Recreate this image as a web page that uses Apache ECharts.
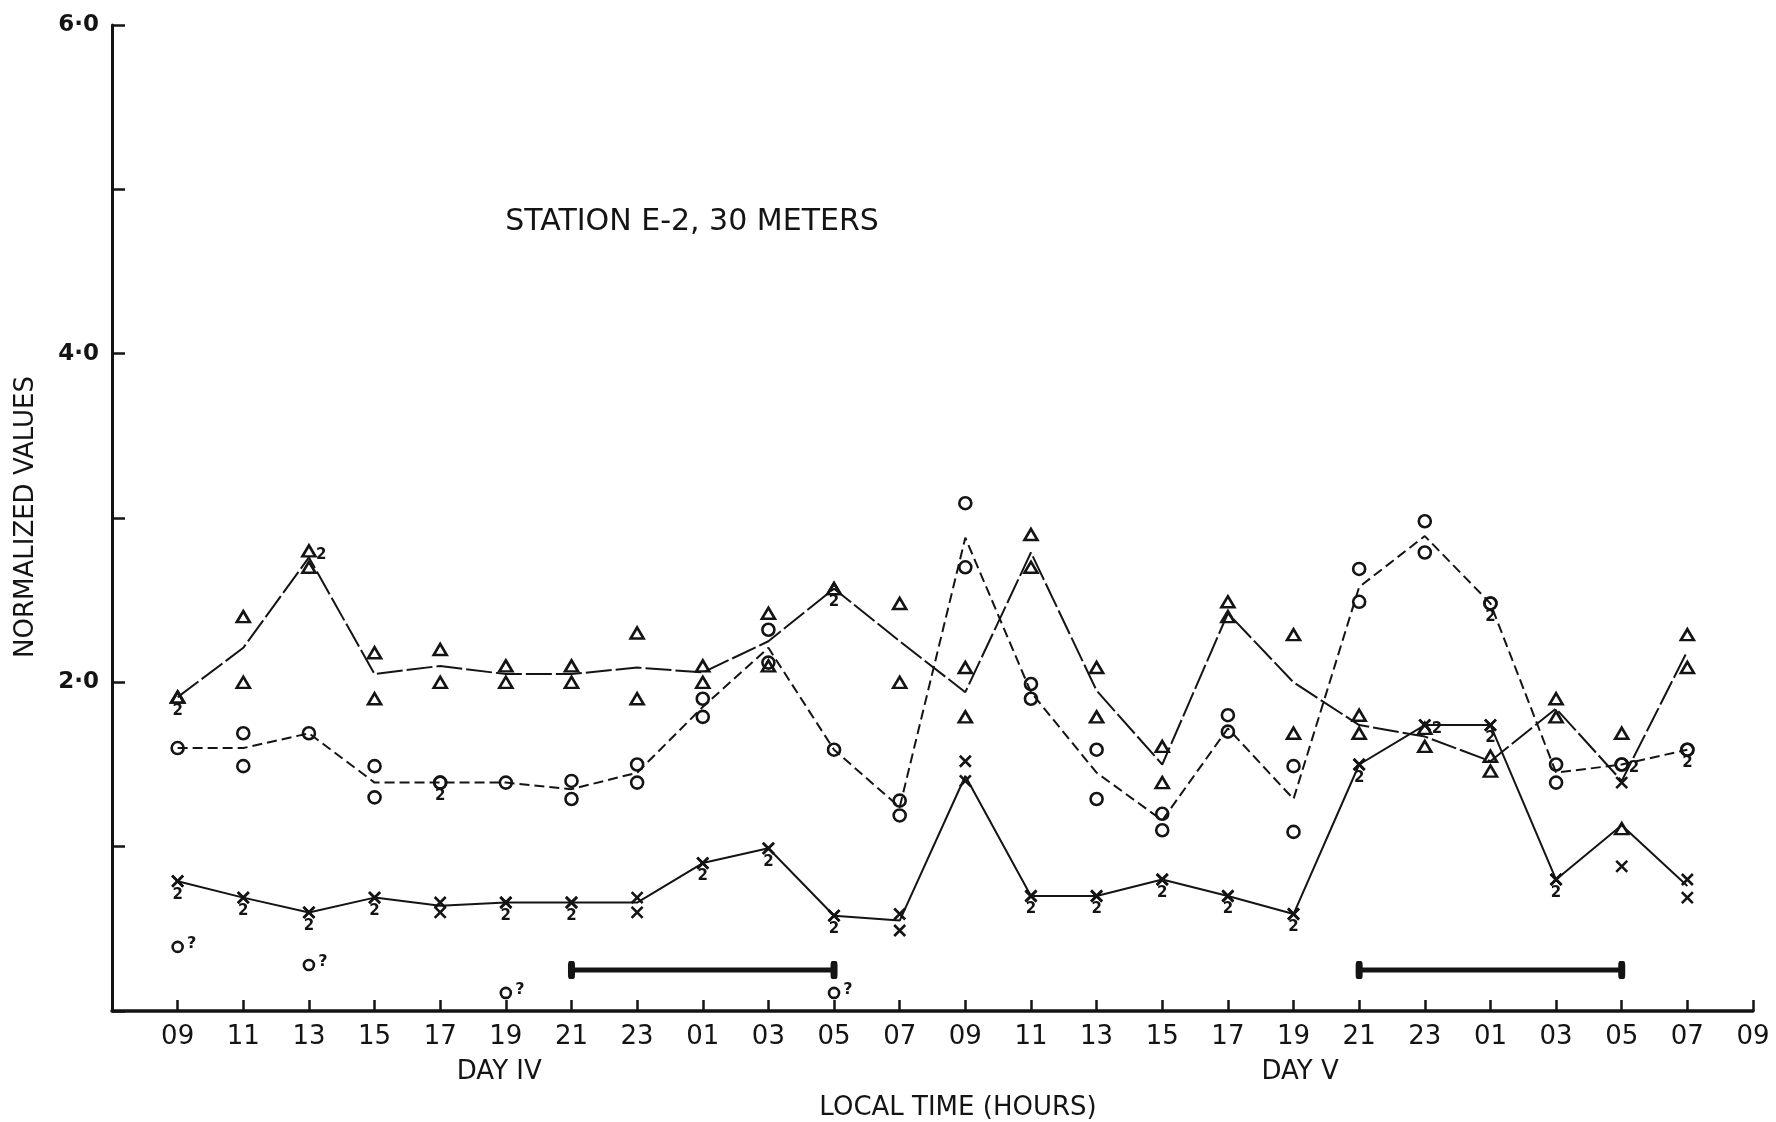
<!DOCTYPE html>
<html><head><meta charset="utf-8">
<script src="https://cdn.jsdelivr.net/npm/echarts@6/dist/echarts.min.js"></script>
<style>html,body{margin:0;padding:0;background:#fff}#c{width:1776px;height:1122px}</style>
</head><body><div id="c"></div>
<script>
// ---- tick labels / categories ----
const timeLabels = ['09','11','13','15','17','19','21','23','01','03','05','07','09','11','13','15','17','19','21','23','01','03','05','07','09'];
const dayLabels = [{name:'DAY IV', at:4.9}, {name:'DAY V', at:17.1}];

// ---- triangle series (mean line + two observations) ----
const triLine = [1.91,2.21,2.76,2.05,2.10,2.05,2.05,2.09,2.06,2.25,2.57,2.25, 1.94,2.79,1.95,1.50,2.42,2.00,1.74,1.67,1.52,1.84,1.40,2.19];
const triA    = [1.91,2.40,2.80,2.18,2.20,2.10,2.10,2.30,2.10,2.42,2.57,2.48, 2.09,2.90,2.09,1.61,2.49,2.29,1.80,1.72,1.55,1.90,1.69,2.29];
const triB    = [1.91,2.00,2.70,1.90,2.00,2.00,2.00,1.90,2.00,2.10,2.57,2.00, 1.79,2.70,1.79,1.39,2.40,1.69,1.69,1.61,1.46,1.79,1.11,2.09];

// ---- circle series ----
const cirLine = [1.60,1.60,1.69,1.39,1.39,1.39,1.35,1.45,1.85,2.21,1.59,1.24, 2.88,1.94,1.45,1.16,1.72,1.29,2.58,2.89,2.48,1.45,1.50,1.59];
const cirA    = [1.60,1.69,1.69,1.49,1.39,1.39,1.40,1.50,1.90,2.32,1.59,1.28, 3.09,1.99,1.59,1.20,1.80,1.49,2.69,2.98,2.48,1.50,1.50,1.59];
const cirB    = [null,1.49,null,1.30,1.39,null,1.29,1.39,1.79,2.12,null,1.19, 2.70,1.90,1.29,1.10,1.70,1.09,2.49,2.79,2.48,1.39,1.50,1.59];
const cirQuery = [0.39,null,0.28,null,null,0.11,null,null,null,null,0.11,null, null,null,null,null,null,null,null,null,null,null,null,null];

// ---- cross series ----
const xLine = [0.79,0.69,0.60,0.69,0.64,0.66,0.66,0.66,0.90,0.99,0.58,0.55, 1.43,0.70,0.70,0.80,0.70,0.59,1.50,1.74,1.74,0.80,1.13,0.76];
const xA    = [0.79,0.69,0.60,0.69,0.66,0.66,0.66,0.69,0.90,0.99,0.58,0.59, 1.52,0.70,0.70,0.80,0.70,0.59,1.50,1.74,1.74,0.80,1.39,0.80];
const xB    = [0.79,0.69,0.60,0.69,0.60,0.66,0.66,0.60,0.90,0.99,0.58,0.49, 1.40,0.70,0.70,0.80,0.70,0.59,1.50,1.74,1.74,0.80,0.88,0.69];

// ---- "2" (duplicate) markers: indices ----
const triDupBelow = [0,10];
const triDupRight = [2];
const cirDupBelow = [4,20,23];
const cirDupRight = [22];
const xDupBelow = [0,1,2,3,5,6,8,9,10,13,14,15,16,17,18,20,21];
const xDupRight = [19];

// ---- dark periods (start index, end index) and level ----
const nightBars = [[6,10],[18,22]];
const nightLevel = 0.25;

const INK = '#141414';
const FONT = 'DejaVu Sans';

function pts(arr){ const out=[]; arr.forEach((v,i)=>{ if(v!=null) out.push([i,v]); }); return out; }
function at(idx, arr){ return idx.map(i=>[i, arr[i]]); }

const crossPath = 'path://M0,0L10,10M10,0L0,10';
const hollow = {color:'rgba(0,0,0,0)', borderColor:INK, borderWidth:2.6, opacity:1};

const series = [];
series.push({type:'line', data:pts(triLine), symbol:'none', lineStyle:{color:INK, width:2, type:[26,4]}, z:2, silent:true});
series.push({type:'line', data:pts(cirLine), symbol:'none', lineStyle:{color:INK, width:2, type:[10,5]}, z:2, silent:true});
series.push({type:'line', data:pts(xLine), symbol:'none', lineStyle:{color:INK, width:2}, z:2, silent:true});

series.push({type:'scatter', data:pts(triA).concat(pts(triB)), symbol:'triangle', symbolSize:[13,11], itemStyle:hollow, z:3, silent:true});
series.push({type:'scatter', data:pts(cirA).concat(pts(cirB)), symbol:'circle', symbolSize:12, itemStyle:hollow, z:3, silent:true});
series.push({type:'scatter', data:pts(xA).concat(pts(xB)), symbol:crossPath, symbolSize:11, itemStyle:{color:'rgba(0,0,0,0)', borderColor:INK, borderWidth:2.6, opacity:1}, z:3, silent:true});
series.push({type:'scatter', data:pts(cirQuery), symbol:'circle', symbolSize:10, itemStyle:hollow, z:3, silent:true,
  label:{show:true, formatter:'?', position:'right', distance:3, offset:[0,-3], fontSize:16, fontWeight:'bold', color:INK, fontFamily:FONT}});

function dupSeries(data, pos){
  return {type:'scatter', data:data, symbol:'circle', symbolSize:10, itemStyle:{color:'rgba(0,0,0,0)', opacity:1}, z:4, silent:true,
    label:{show:true, formatter:'2', position:pos, distance: pos==='bottom'?1:2, offset: pos==='right'?[0,4]:[0,0],
      fontSize:15, fontWeight:'bold', color:INK, opacity:1, fontFamily:FONT}};
}
series.push(dupSeries(at(triDupBelow, triA), 'bottom'));
series.push(dupSeries(at(triDupRight, triA), 'right'));
series.push(dupSeries(at(cirDupBelow, cirA), 'bottom'));
series.push(dupSeries(at(cirDupRight, cirA), 'right'));
series.push(dupSeries(at(xDupBelow, xA), 'bottom'));
series.push(dupSeries(at(xDupRight, xA), 'right'));

nightBars.forEach(b=>{
  series.push({type:'line', data:[[b[0],nightLevel],[b[1],nightLevel]], symbol:'roundRect', symbolSize:[7,18], showAllSymbol:true,
    itemStyle:{color:INK}, lineStyle:{color:INK, width:5}, z:3, silent:true});
});

const chart = echarts.init(document.getElementById('c'));
chart.setOption({
  animation:false,
  backgroundColor:'#fff',
  grid:{left:112, right:23, top:25, bottom:111, containLabel:false, outerBoundsMode:'none'},
  xAxis:{type:'value', min:-1, max:24, interval:1,
    axisLine:{show:true, onZero:false, lineStyle:{color:INK, width:3.5}},
    axisTick:{show:true, inside:true, length:11, lineStyle:{color:INK, width:2.5}},
    splitLine:{show:false},
    axisLabel:{formatter:v=> (v>=0 && Number.isInteger(v)) ? timeLabels[v] : '', margin:13, fontSize:26, color:INK, fontFamily:FONT}},
  yAxis:{type:'value', min:0, max:6, interval:1,
    axisLine:{show:true, onZero:false, lineStyle:{color:INK, width:3}},
    axisTick:{show:true, inside:true, length:13, lineStyle:{color:INK, width:2.5}},
    splitLine:{show:false},
    axisLabel:{formatter:v=> (v>0 && v%2===0) ? (v + '\u00B70') : '', margin:13, fontSize:23, fontWeight:'bold', color:INK, fontFamily:FONT}},
  series:series
});

const baseY = chart.convertToPixel({yAxisIndex:0}, 0);
const graphics = [
  {type:'text', x:692, y:222, style:{text:'STATION E-2, 30 METERS', fill:INK, font:'30px "DejaVu Sans"', align:'center', verticalAlign:'middle'}},
  {type:'text', x:26, y:517, rotation:Math.PI/2, style:{text:'NORMALIZED VALUES', fill:INK, font:'26px "DejaVu Sans"', align:'center', verticalAlign:'middle'}},
  {type:'text', x:958, y:baseY+97, style:{text:'LOCAL TIME (HOURS)', fill:INK, font:'26px "DejaVu Sans"', align:'center', verticalAlign:'middle'}}
];
dayLabels.forEach(d=>{
  graphics.push({type:'text', x:chart.convertToPixel({xAxisIndex:0}, d.at), y:baseY+61,
    style:{text:d.name, fill:INK, font:'26px "DejaVu Sans"', align:'center', verticalAlign:'middle'}});
});
chart.setOption({graphic:graphics});
</script></body></html>
